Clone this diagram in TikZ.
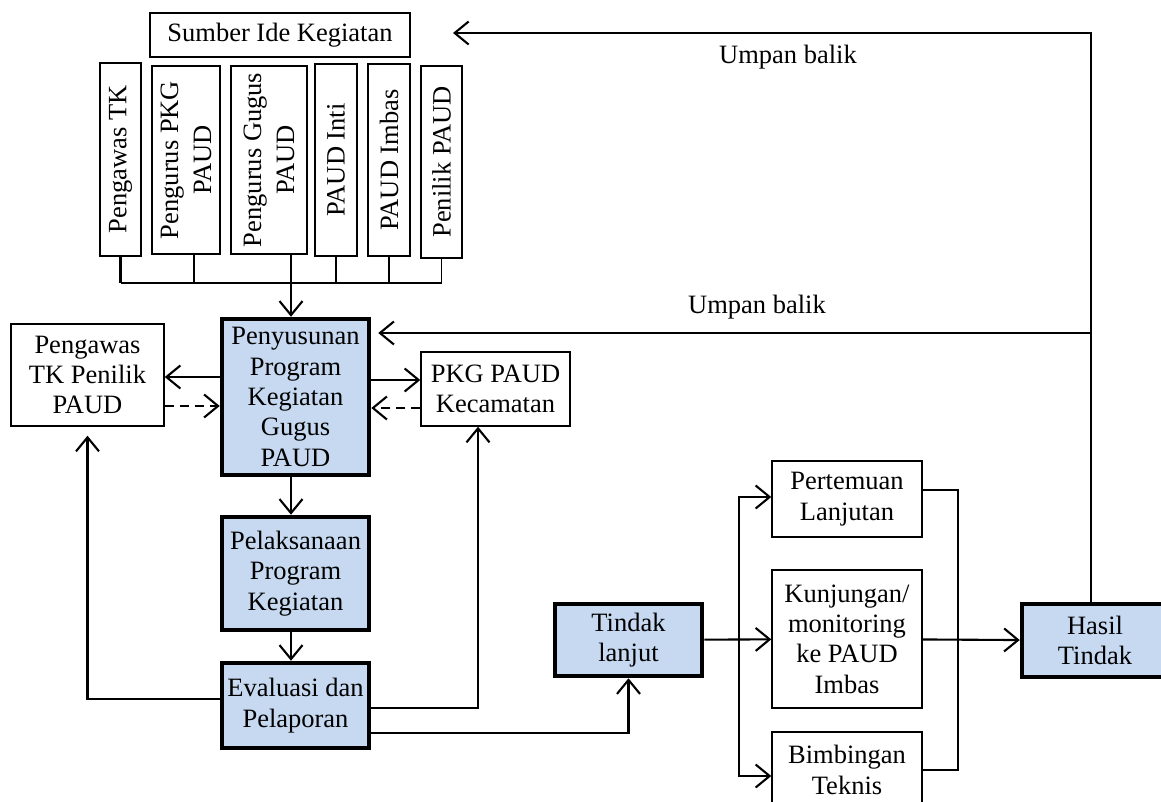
\documentclass[tikz,border=0pt]{standalone}
\usepackage{fontspec}
\setmainfont{Liberation Serif}
\usetikzlibrary{arrows.meta}
\definecolor{birumuda}{RGB}{198,217,241}

\begin{document}
\begin{tikzpicture}[x=1pt,y=-1pt,
   box/.style={draw,line width=1.4pt,inner sep=0pt,align=center,
               font=\fontsize{26.5}{30.3}\selectfont},
   tebal/.style={box,line width=4.5pt,fill=birumuda},
   tegak/.style={box,rotate=90,font=\fontsize{26.5}{33}\selectfont},
   panah/.style={-{Straight Barb[length=14pt,width=23pt]},line width=2.1pt},
   putus/.style={panah,dash pattern=on 9pt off 6pt},
   garis/.style={line width=1.6pt}]
   \clip (0,0) rectangle (1161,802);
   % sumber ide
   \node[box,minimum width=260,minimum height=44] (sumber) at (280,35) {Sumber Ide Kegiatan};
   \node[tegak,minimum width=193,minimum height=41] (tk)      at (120.5,159.5) {Pengawas TK};
   \node[tegak,minimum width=188,minimum height=68] (pkg)     at (186,160)     {Pengurus PKG\\PAUD};
   \node[tegak,minimum width=188,minimum height=76] (gugus)   at (269,160)     {Pengurus Gugus\\PAUD};
   \node[tegak,minimum width=192,minimum height=42] (inti)    at (336,160)     {PAUD Inti};
   \node[tegak,minimum width=192,minimum height=42] (imbas)   at (389,160)     {PAUD Imbas};
   \node[tegak,minimum width=192,minimum height=41] (penilik) at (441.5,162)   {Penilik PAUD};
   % alur utama
   \node[box,minimum width=153,minimum height=102] (pengawas) at (87.5,375) {Pengawas\\TK Penilik\\PAUD};
   \node[tebal,minimum width=147,minimum height=156] (susun) at (295.5,397) {Penyusunan\\Program\\Kegiatan\\Gugus\\PAUD};
   \node[box,minimum width=149,minimum height=74] (pkgkec) at (495.5,389) {PKG PAUD\\Kecamatan};
   \node[tebal,minimum width=147,minimum height=113] (laksana) at (295.5,573.5) {Pelaksanaan\\Program\\Kegiatan};
   \node[tebal,minimum width=147,minimum height=85] (evaluasi) at (295.5,705.5) {Evaluasi dan\\Pelaporan};
   \node[tebal,minimum width=147,minimum height=72] (tindak) at (628.5,640) {Tindak\\lanjut};
   \node[box,minimum width=150,minimum height=76] (temu) at (847,499) {Pertemuan\\Lanjutan};
   \node[box,minimum width=150,minimum height=138] (kunjungan) at (847,639) {Kunjungan/\\monitoring\\ke PAUD\\Imbas};
   \node[box,minimum width=150,minimum height=76] (bimbingan) at (847,770) {Bimbingan\\Teknis};
   \node[tebal,minimum width=146,minimum height=73] (hasil) at (1095,640.5) {Hasil\\Tindak};
   \node[font=\fontsize{26.5}{30.3}\selectfont] (umpan1) at (788,57) {Umpan balik};
   \node[font=\fontsize{26.5}{30.3}\selectfont] (umpan2) at (757,307) {Umpan balik};
   \coordinate (bus) at (291,283);
   \coordinate (balik1) at (453,33);
   \coordinate (balik2) at (1091,333);
   \coordinate (cabang) at (739,639);
   \coordinate (kumpul) at (958,639);

   % garis dari sumber ide
   \draw[line width=2.6pt] (tk.west) -- (tk.west |- bus);
   \draw[garis] (tk.west |- bus) -- (penilik.west |- bus) -- (penilik.west);
   \draw[garis] ([xshift=8pt]pkg.west) -- ([xshift=8pt]pkg.west |- bus);
   \draw[garis] (inti.west) -- (inti.west |- bus);
   \draw[garis] (imbas.west) -- (imbas.west |- bus);
   \draw[panah] ([xshift=22pt]gugus.west) -- ([xshift=22pt]gugus.west |- susun.north);
   % umpan balik
   \draw[panah] ([xshift=-4pt]hasil.north) -- (balik2) |- (balik1);
   \draw[panah,shorten >=7pt] (balik2) -- (balik2 -| susun.east);
   % penyusunan
   \draw[panah] ([yshift=20pt]susun.west) -- ([yshift=20pt]susun.west -| pengawas.east);
   \draw[putus] ([yshift=-31pt]pengawas.east) -- ([yshift=-31pt]pengawas.east -| susun.west);
   \draw[panah] ([yshift=17pt]susun.east) -- ([yshift=17pt]susun.east -| pkgkec.west);
   \draw[putus] ([yshift=-19pt]pkgkec.west) -- ([yshift=-19pt]pkgkec.west -| susun.east);
   \draw[panah] ([xshift=-4.5pt]susun.south) -- ([xshift=-4.5pt]laksana.north);
   \draw[panah] ([xshift=-4.5pt]laksana.south) -- ([xshift=-4.5pt]evaluasi.north);
   % evaluasi
   \draw[panah,shorten >=9pt] ([yshift=6.5pt]evaluasi.west) -| (pengawas.south);
   \draw[panah] ([yshift=-2.5pt]evaluasi.east) -| ([xshift=-17.5pt]pkgkec.south);
   \draw[panah] ([yshift=-27.5pt]evaluasi.east) -| (tindak.south);
   % tindak lanjut
   \draw[panah] (tindak) -- (kunjungan);
   \draw[panah] (cabang) |- ([yshift=2pt]temu.west);
   \draw[panah] (cabang) |- ([yshift=-6pt]bimbingan.west);
   \draw[garis] ([yshift=9pt]temu.east) -| (kumpul) |- (bimbingan.east);
   \draw[panah] (kunjungan) -- (hasil);
\end{tikzpicture}
\end{document}
